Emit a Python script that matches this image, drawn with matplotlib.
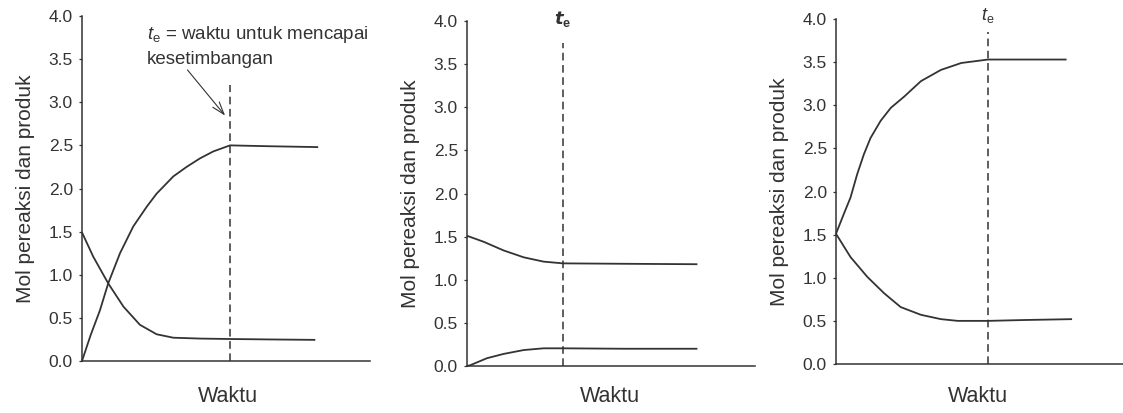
import numpy as np
import matplotlib as mpl
mpl.use("Agg")
from matplotlib import pyplot as plt

plt.rcParams['font.family'] = ['Liberation Sans', 'DejaVu Sans']
plt.rcParams['mathtext.fontset'] = 'custom'
plt.rcParams['mathtext.it'] = 'Liberation Sans:italic'
plt.rcParams['mathtext.rm'] = 'Liberation Sans'
plt.rcParams['mathtext.bf'] = 'Liberation Sans:bold'

# 各图的时间点 (0-10) 与摩尔数
# 图1: 产物 0 -> 2.5, 反应物 1.5 -> 0.25
t1_prod = [0, 0.3, 0.625, 0.91, 1.32, 1.78, 2.25, 2.59, 3.17, 3.63, 4.1, 4.56, 5.14, 6.5, 8.2]
y1_prod = [0, 0.3, 0.59, 0.9, 1.25, 1.56, 1.79, 1.94, 2.14, 2.25, 2.35, 2.43, 2.5, 2.49, 2.48]
t1_reak = [0, 0.39, 0.91, 1.44, 2.01, 2.59, 3.17, 4.1, 5.14, 6.5, 8.1]
y1_reak = [1.49, 1.21, 0.9, 0.63, 0.42, 0.31, 0.27, 0.26, 0.255, 0.25, 0.245]

# 图2: 反应物 1.5 -> 1.18, 产物 0 -> 0.2
t2_reak = [0, 0.58, 1.27, 1.97, 2.66, 3.33, 5.5, 8.0]
y2_reak = [1.51, 1.44, 1.34, 1.26, 1.21, 1.19, 1.185, 1.18]
t2_prod = [0, 0.12, 0.69, 1.27, 1.97, 2.66, 3.33, 5.5, 8.0]
y2_prod = [0, 0.01, 0.09, 0.14, 0.185, 0.205, 0.205, 0.2, 0.2]

# 图3: 产物 1.5 -> 3.53, 反应物 1.5 -> 0.5
t3_prod = [0, 0.27, 0.5, 0.73, 0.96, 1.19, 1.54, 1.89, 2.35, 2.93, 3.62, 4.32, 5.24, 6.5, 7.95]
y3_prod = [1.51, 1.74, 1.93, 2.2, 2.43, 2.62, 2.82, 2.97, 3.1, 3.28, 3.41, 3.49, 3.53, 3.53, 3.53]
t3_reak = [0, 0.5, 1.08, 1.66, 2.23, 2.93, 3.62, 4.2, 5.24, 6.5, 8.14]
y3_reak = [1.51, 1.24, 1.01, 0.82, 0.66, 0.57, 0.52, 0.5, 0.5, 0.51, 0.52]

# 达到平衡的时间 t_e 及虚线顶端
te = [5.14, 3.33, 5.24]
te_top = [3.2, 3.74, 3.85]

yticks = [0.0, 0.5, 1.0, 1.5, 2.0, 2.5, 3.0, 3.5, 4.0]
warna = '#333333'

f = plt.figure(figsize=(11.23, 4.13), dpi=100)
W, H = 1123.0, 413.0
# 三个坐标轴的位置 (像素)
kotak = [(82, 361, 288), (467, 366, 288), (836, 364, 290)]
axes = []
for (x0, ybot, w) in kotak:
    ax = f.add_axes([x0 / W, 1 - ybot / H, w / W, 345 / H])
    ax.set_xlim(0, 10)
    ax.set_ylim(0, 4)
    ax.spines['top'].set_visible(False)
    ax.spines['right'].set_visible(False)
    for s in ['left', 'bottom']:
        ax.spines[s].set_color(warna)
        ax.spines[s].set_linewidth(1.1)
    ax.set_xticks([])
    ax.set_yticks(yticks)
    ax.set_yticklabels(['%.1f' % v for v in yticks], fontsize=12.5, color=warna)
    ax.tick_params(axis='y', length=2.5, width=0.9, color=warna, pad=4)
    ax.set_ylabel('Mol pereaksi dan produk', fontsize=15, color=warna, labelpad=10)
    axes.append(ax)

data = [
    [(t1_prod, y1_prod), (t1_reak, y1_reak)],
    [(t2_reak, y2_reak), (t2_prod, y2_prod)],
    [(t3_prod, y3_prod), (t3_reak, y3_reak)],
]
for i, ax in enumerate(axes):
    for tx, ty in data[i]:
        ax.plot(tx, ty, color=warna, lw=1.3, solid_capstyle='butt',
                solid_joinstyle='round', clip_on=False)
    ax.plot([te[i], te[i]], [0, te_top[i]], color=warna, lw=1.1,
            linestyle=(0, (5, 3)), clip_on=False)

# 标注
ax = axes[0]
ax.text(2.25, 3.79, r'$t_{\mathrm{e}}$ = waktu untuk mencapai', fontsize=13.5,
        color=warna, va='center', ha='left')
ax.text(2.25, 3.5, 'kesetimbangan', fontsize=13.5, color=warna, va='center', ha='left')
ax.annotate('', xy=(5.03, 2.82), xytext=(3.6, 3.4),
            arrowprops=dict(arrowstyle='->,head_length=0.9,head_width=0.3',
                            color=warna, lw=0.8))

axes[1].text(te[1], 4.02, r'$\mathbfit{t}_{\mathbf{e}}$', fontsize=13, color=warna,
             ha='center', va='center', clip_on=False)
axes[2].text(te[2], 4.04, r'$t_{\mathrm{e}}$', fontsize=13, color=warna,
             ha='center', va='center', clip_on=False)

# 横轴标题
for xc in [228, 610, 978]:
    f.text(xc / W, 1 - 397 / H, 'Waktu', fontsize=15.5, color=warna,
           ha='center', va='center')

f.savefig('out.png', dpi=100)
